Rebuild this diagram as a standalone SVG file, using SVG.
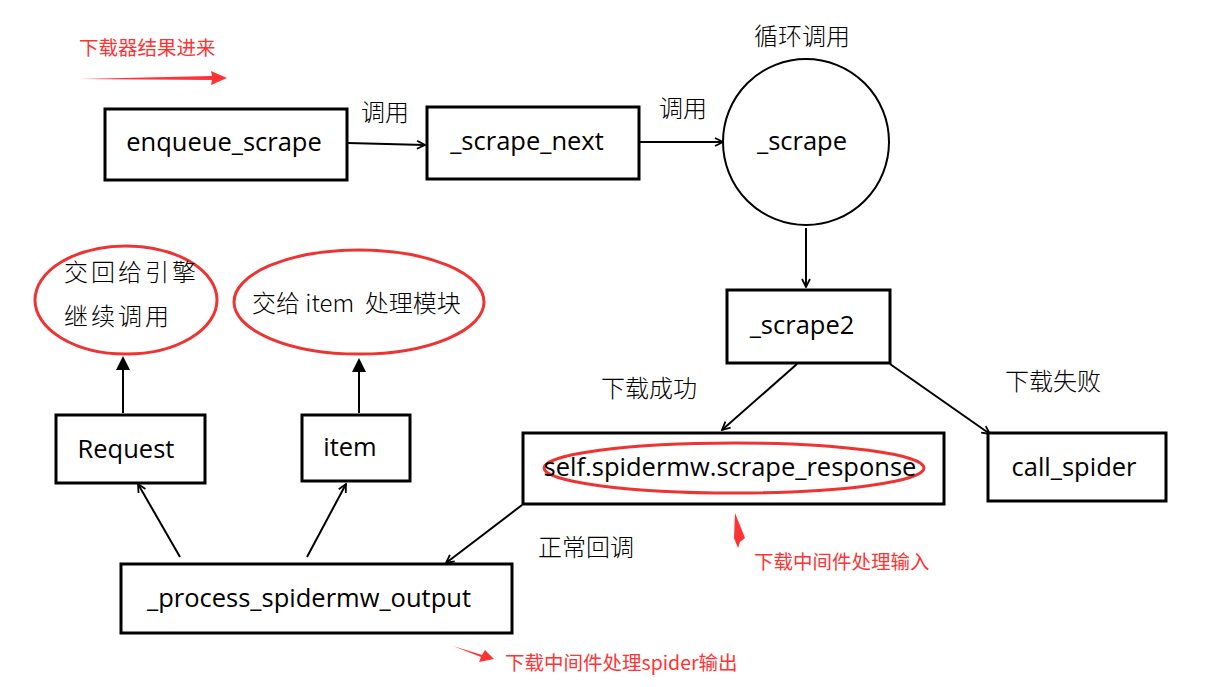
<svg xmlns="http://www.w3.org/2000/svg" width="1226" height="687" viewBox="0 0 1226 687">
<style>
.box{fill:#fff;stroke:#000;stroke-width:3}
.t{font-family:"Open Sans","Noto Sans","Noto Sans CJK SC",sans-serif;font-size:25.5px;fill:#000}
.c{font-family:"Noto Sans CJK SC",sans-serif;font-size:24px;font-weight:300;fill:#000}
.r{font-family:"Noto Sans CJK SC",sans-serif;font-size:19.5px;fill:#f33}
.ln{stroke:#000;stroke-width:2;fill:none}
.re{fill:none;stroke:#e33;stroke-width:3}
</style>
<defs>
<marker id="a" markerWidth="10" markerHeight="10" refX="9" refY="5" orient="auto" markerUnits="userSpaceOnUse"><path d="M1,1 L9,5 L1,9" fill="none" stroke="#000" stroke-width="1.8"/></marker>
<marker id="f" markerWidth="14" markerHeight="14" refX="12" refY="7" orient="auto" markerUnits="userSpaceOnUse"><path d="M0,0 L14,7 L0,14 z" fill="#000"/></marker>
</defs>
<rect width="1226" height="687" fill="#fff"/>
<g id="connectors">
<line class="ln" x1="348" y1="143" x2="425" y2="145" marker-end="url(#a)"/>
<line class="ln" x1="639" y1="142" x2="723" y2="142" marker-end="url(#a)"/>
<line class="ln" x1="806" y1="228" x2="806" y2="287" marker-end="url(#a)"/>
<line class="ln" x1="797" y1="364" x2="722" y2="430" marker-end="url(#a)"/>
<line class="ln" x1="890" y1="364" x2="990" y2="434" marker-end="url(#a)"/>
<line class="ln" x1="522" y1="505" x2="446" y2="563" marker-end="url(#a)"/>
<line class="ln" x1="180" y1="557" x2="138" y2="484" marker-end="url(#a)"/>
<line class="ln" x1="307" y1="557" x2="346" y2="484" marker-end="url(#a)"/>
<line class="ln" x1="123" y1="413" x2="123" y2="358" marker-end="url(#f)"/>
<line class="ln" x1="359" y1="413" x2="359" y2="360" marker-end="url(#f)"/>
<text class="c" x="361" y="121">调用</text>
<text class="c" x="659" y="117">调用</text>
<text class="c" x="754" y="45">循环调用</text>
<text class="c" x="601" y="397">下载成功</text>
<text class="c" x="1005" y="390">下载失败</text>
<text class="c" x="538" y="556">正常回调</text>
</g>
<g id="annotations">
<text class="r" x="79" y="55">下载器结果进来</text>
<path d="M79,79 L212,76 L211,71 L227,78 L211,85 L212,80 Z" fill="#f33"/>
<path d="M735,513 L745,538 L740,542 L738,548 L734,538 Z" fill="#f33"/>
<text class="r" x="754" y="569">下载中间件处理输入</text>
<path d="M453,646 L482,655 L485,650 L494,659 L479,662 L481,657 Z" fill="#f33"/>
<text class="r" x="505" y="670">下载中间件处理spider输出</text>
</g>
<g id="enqueue_scrape"><rect class="box" x="105" y="109" width="242" height="71"/><text class="t" x="224" y="151" text-anchor="middle">enqueue_scrape</text></g>
<g id="scrape_next"><rect class="box" x="427" y="107" width="212" height="72"/><text class="t" x="527" y="150" text-anchor="middle">_scrape_next</text></g>
<g id="scrape"><circle cx="806" cy="142" r="83" fill="#fff" stroke="#000" stroke-width="2"/><text class="t" x="802" y="150" text-anchor="middle">_scrape</text></g>
<g id="scrape2"><rect class="box" x="727" y="290" width="163" height="73"/><text class="t" x="802" y="334" text-anchor="middle">_scrape2</text></g>
<g id="scrape_response"><rect class="box" x="523" y="433" width="421" height="71"/><ellipse class="re" cx="734" cy="468" rx="190" ry="25"/><text class="t" x="730" y="476" text-anchor="middle">self.spidermw.scrape_response</text></g>
<g id="call_spider"><rect class="box" x="988" y="433" width="178" height="68"/><text class="t" x="1074" y="476" text-anchor="middle">call_spider</text></g>
<g id="process_output"><rect class="box" x="121" y="564" width="391" height="69"/><text class="t" x="309" y="607" text-anchor="middle">_process_spidermw_output</text></g>
<g id="request"><rect class="box" x="56" y="415" width="149" height="68"/><text class="t" x="126" y="458" text-anchor="middle">Request</text></g>
<g id="item"><rect class="box" x="302" y="415" width="108" height="66"/><text class="t" x="350" y="456" text-anchor="middle">item</text></g>
<g id="engine"><ellipse class="re" cx="126" cy="300" rx="91" ry="54"/><text class="c" x="64" y="281" letter-spacing="3">交回给引擎</text><text class="c" x="64" y="325" letter-spacing="3">继续调用</text></g>
<g id="item_module"><ellipse class="re" cx="359" cy="302" rx="125" ry="52"/><text class="c" x="252" y="312" xml:space="preserve">交给 item  处理模块</text></g>
</svg>
